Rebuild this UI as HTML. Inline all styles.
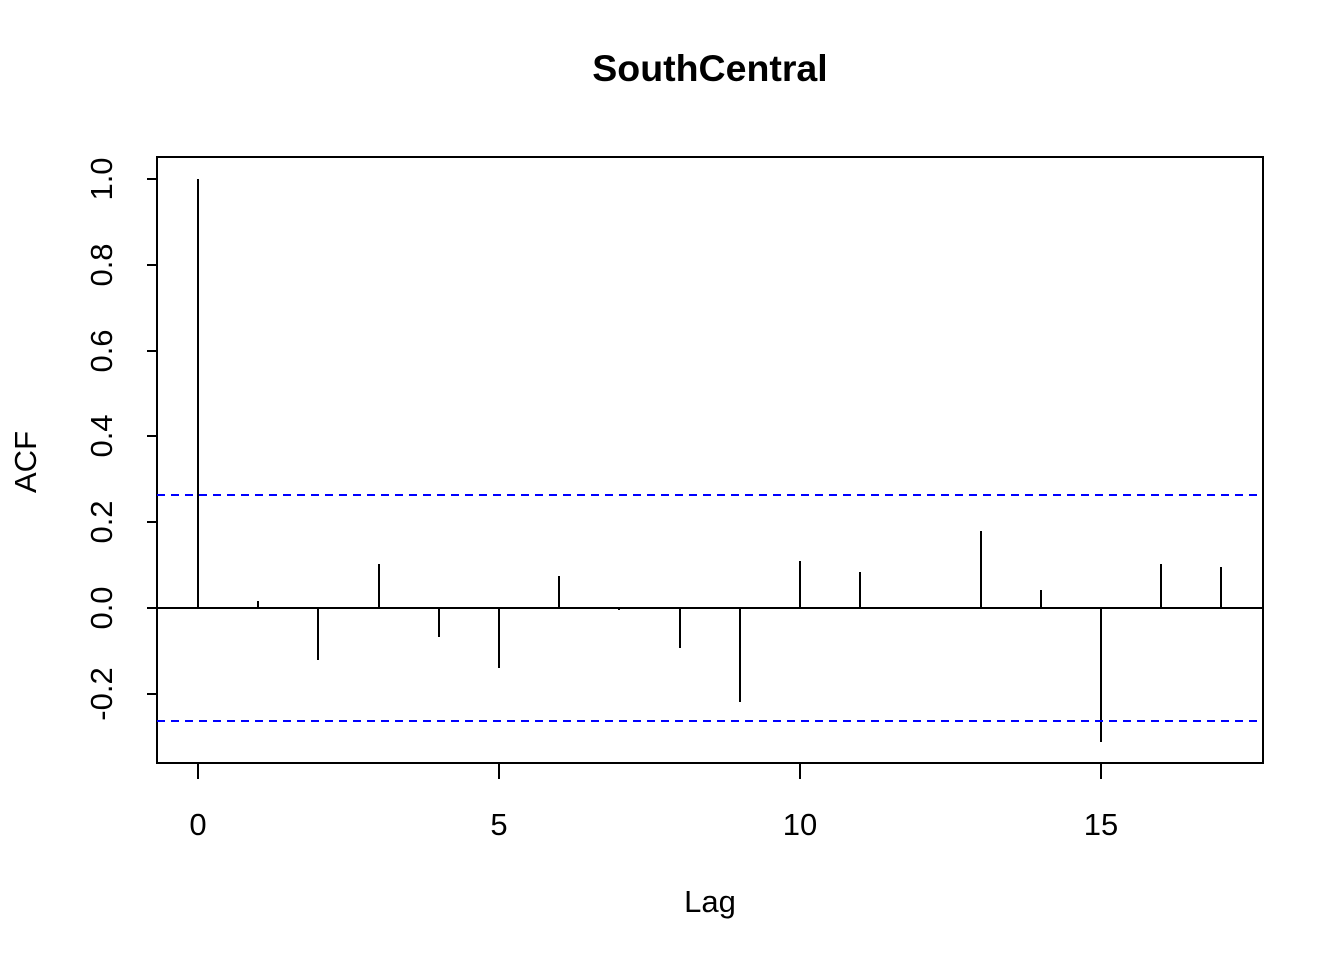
<!DOCTYPE html>
<html><head><style>body{margin:0;background:#fff}svg{display:block}</style></head><body>
<svg width="1344" height="960" xmlns="http://www.w3.org/2000/svg" font-family="Liberation Sans, sans-serif">
<rect width="1344" height="960" fill="#fff"/>
<text x="710" y="81" font-size="37.5" font-weight="bold" text-anchor="middle">SouthCentral</text>
<rect x="157" y="157" width="1106" height="606" fill="none" stroke="#000" stroke-width="2"/>
<g stroke="#000" stroke-width="2">
<line x1="157" y1="608" x2="147" y2="608"/><line x1="157" y1="179" x2="147" y2="179"/>
<line x1="147" y1="694" x2="157" y2="694"/><line x1="147" y1="522" x2="157" y2="522"/>
<line x1="147" y1="436" x2="157" y2="436"/><line x1="147" y1="351" x2="157" y2="351"/>
<line x1="147" y1="265" x2="157" y2="265"/>
<line x1="198" y1="763" x2="198" y2="779"/><line x1="499" y1="763" x2="499" y2="779"/>
<line x1="800" y1="763" x2="800" y2="779"/><line x1="1101" y1="763" x2="1101" y2="779"/>
<line x1="157" y1="608" x2="1263" y2="608"/>
<line x1="198" y1="608" x2="198" y2="179"/>
<line x1="258" y1="608" x2="258" y2="601"/>
<line x1="318" y1="608" x2="318" y2="660"/>
<line x1="379" y1="608" x2="379" y2="564"/>
<line x1="439" y1="608" x2="439" y2="637"/>
<line x1="499" y1="608" x2="499" y2="668"/>
<line x1="559" y1="608" x2="559" y2="576"/>
<line x1="619" y1="608" x2="619" y2="610"/>
<line x1="680" y1="608" x2="680" y2="648"/>
<line x1="740" y1="608" x2="740" y2="702"/>
<line x1="800" y1="608" x2="800" y2="561"/>
<line x1="860" y1="608" x2="860" y2="572"/>
<line x1="981" y1="608" x2="981" y2="531"/>
<line x1="1041" y1="608" x2="1041" y2="590"/>
<line x1="1101" y1="608" x2="1101" y2="742"/>
<line x1="1161" y1="608" x2="1161" y2="564"/>
<line x1="1221" y1="608" x2="1221" y2="567"/>
</g>
<g stroke="#0000ff" stroke-width="2" stroke-dasharray="8,6">
<line x1="157" y1="495" x2="1263" y2="495"/><line x1="157" y1="721" x2="1263" y2="721"/>
</g>
<g font-size="31" text-anchor="middle">
<text x="198" y="835">0</text><text x="499" y="835">5</text><text x="800" y="835">10</text><text x="1101" y="835">15</text>
<text x="710" y="912">Lag</text>
<text transform="translate(36,462) rotate(-90)">ACF</text>
<text transform="translate(112,694) rotate(-90)">-0.2</text>
<text transform="translate(112,608) rotate(-90)">0.0</text>
<text transform="translate(112,522) rotate(-90)">0.2</text>
<text transform="translate(112,436) rotate(-90)">0.4</text>
<text transform="translate(112,351) rotate(-90)">0.6</text>
<text transform="translate(112,265) rotate(-90)">0.8</text>
<text transform="translate(112,179) rotate(-90)">1.0</text>
</g>
</svg>
</body></html>
